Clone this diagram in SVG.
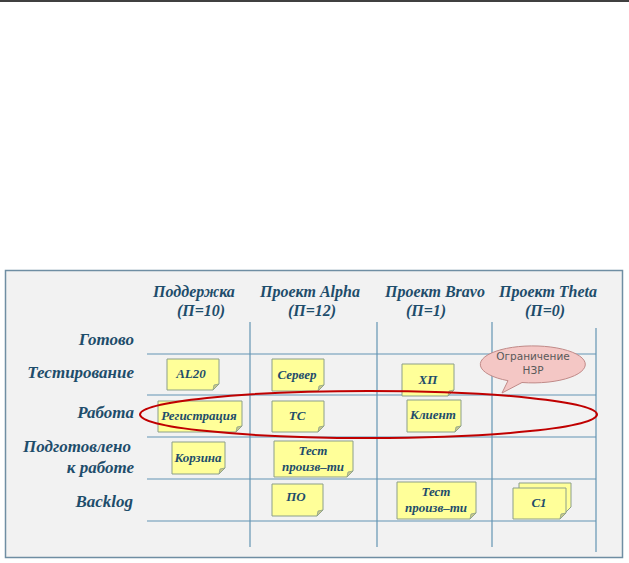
<svg xmlns="http://www.w3.org/2000/svg" width="629" height="563" viewBox="0 0 629 563">
<style>
.hd{font-family:"Liberation Serif",serif;font-style:italic;font-weight:bold;font-size:16px;fill:#1e4d6b;text-anchor:middle}
.rl{font-family:"Liberation Serif",serif;font-style:italic;font-weight:bold;font-size:17px;fill:#1e4d6b;text-anchor:end}
.nt{font-family:"Liberation Serif",serif;font-style:italic;font-weight:bold;font-size:13px;fill:#1e4d6b;text-anchor:middle}
.note{fill:#ffff99;stroke:#8c9f8a;stroke-width:1}
.fold{fill:#c9c98a;stroke:#8c9f8a;stroke-width:0.8}
.grid{stroke:#6394b3;stroke-width:1.2;fill:none}
.call{font-family:"DejaVu Sans",sans-serif;font-size:10.5px;fill:#595959;text-anchor:middle}
</style>
<line x1="0" y1="1" x2="629" y2="1" stroke="#000" stroke-width="1.6"/>
<g id="board">
<rect x="5.5" y="270.5" width="617" height="287" fill="#f2f2f2" stroke="#6f8ea3" stroke-width="1.5"/>
</g>
<g id="grid">
<line class="grid" x1="250" y1="322" x2="250" y2="547"/>
<line class="grid" x1="377" y1="322" x2="377" y2="547"/>
<line class="grid" x1="492" y1="322" x2="492" y2="547"/>
<line class="grid" x1="596" y1="328" x2="596" y2="552"/>
<line class="grid" x1="147" y1="354" x2="596" y2="354"/>
<line class="grid" x1="147" y1="395" x2="596" y2="395"/>
<line class="grid" x1="147" y1="437" x2="596" y2="437"/>
<line class="grid" x1="147" y1="479" x2="596" y2="479"/>
<line class="grid" x1="147" y1="521" x2="596" y2="521"/>
</g>
<g id="headers">
<text class="hd" x="194" y="297">Поддержка</text>
<text class="hd" x="201" y="316">(П=10)</text>
<text class="hd" x="310" y="297">Проект Alpha</text>
<text class="hd" x="312" y="316">(П=12)</text>
<text class="hd" x="435" y="297">Проект Bravo</text>
<text class="hd" x="426" y="316">(П=1)</text>
<text class="hd" x="548" y="297">Проект Theta</text>
<text class="hd" x="545" y="316">(П=0)</text>
</g>
<g id="rows">
<text class="rl" x="134" y="345">Готово</text>
<text class="rl" x="134" y="378">Тестирование</text>
<text class="rl" x="134" y="418">Работа</text>
<text class="rl" x="131" y="452">Подготовлено</text>
<text class="rl" x="134" y="473">к работе</text>
<text class="rl" x="133" y="507">Backlog</text>
</g>
<g id="note-al20">
<path class="note" d="M167,359H219V384L213,390H167Z"/><path class="fold" d="M219,384L213,390L214,385Z"/>
<text class="nt" x="191" y="378">AL20</text>
</g>
<g id="note-server">
<path class="note" d="M272,359H324V385L318,391H272Z"/><path class="fold" d="M324,385L318,391L319,386Z"/>
<text class="nt" x="297" y="379">Сервер</text>
</g>
<g id="note-reg">
<path class="note" d="M158,401H242V426L236,432H158Z"/><path class="fold" d="M242,426L236,432L237,427Z"/>
<text class="nt" x="199" y="420">Регистрация</text>
</g>
<g id="note-tc">
<path class="note" d="M272,401H324V426L318,432H272Z"/><path class="fold" d="M324,426L318,432L319,427Z"/>
<text class="nt" x="297" y="420">ТС</text>
</g>
<g id="note-korzina">
<path class="note" d="M172,442H225V468L219,474H172Z"/><path class="fold" d="M225,468L219,474L220,469Z"/>
<text class="nt" x="198" y="462">Корзина</text>
</g>
<g id="note-test-alpha">
<path class="note" d="M274,441H353V471L347,477H274Z"/><path class="fold" d="M353,471L347,477L348,472Z"/>
<text class="nt" x="313" y="455">Тест</text>
<text class="nt" x="313" y="471">произв–ти</text>
</g>
<g id="note-po">
<path class="note" d="M272,484H323V510L317,516H272Z"/><path class="fold" d="M323,510L317,516L318,511Z"/>
<text class="nt" x="296" y="501">ПО</text>
</g>
<g id="note-xp">
<path class="note" d="M402,364H454V390L448,396H402Z"/><path class="fold" d="M454,390L448,396L449,391Z"/>
<text class="nt" x="428" y="384">ХП</text>
</g>
<g id="note-client">
<path class="note" d="M407,400H461V426L455,432H407Z"/><path class="fold" d="M461,426L455,432L456,427Z"/>
<text class="nt" x="433" y="419">Клиент</text>
</g>
<g id="note-test-bravo">
<path class="note" d="M397,482H476V513L470,519H397Z"/><path class="fold" d="M476,513L470,519L471,514Z"/>
<text class="nt" x="436" y="496">Тест</text>
<text class="nt" x="436" y="512">произв–ти</text>
</g>
<g id="note-c1">
<path class="note" d="M519,483H571V507L565,513H519Z"/>
<path class="note" d="M513,488H566V513L560,519H513Z"/><path class="fold" d="M566,513L560,519L561,514Z"/>
<text class="nt" x="539" y="507">C1</text>
</g>
<g id="callout">
<path d="M508,380.7L502,393L522,382.5A52.5,18.5 0 1 0 508,380.7Z" fill="#f4c7c5" stroke="#c08a88" stroke-width="1"/>
<text class="call" x="533" y="360">Ограничение</text>
<text class="call" x="533" y="374">НЗР</text>
</g>
<g id="connectors">
<ellipse cx="368.5" cy="414.5" rx="228.5" ry="23.5" fill="none" stroke="#c00000" stroke-width="2"/>
</g>
</svg>
